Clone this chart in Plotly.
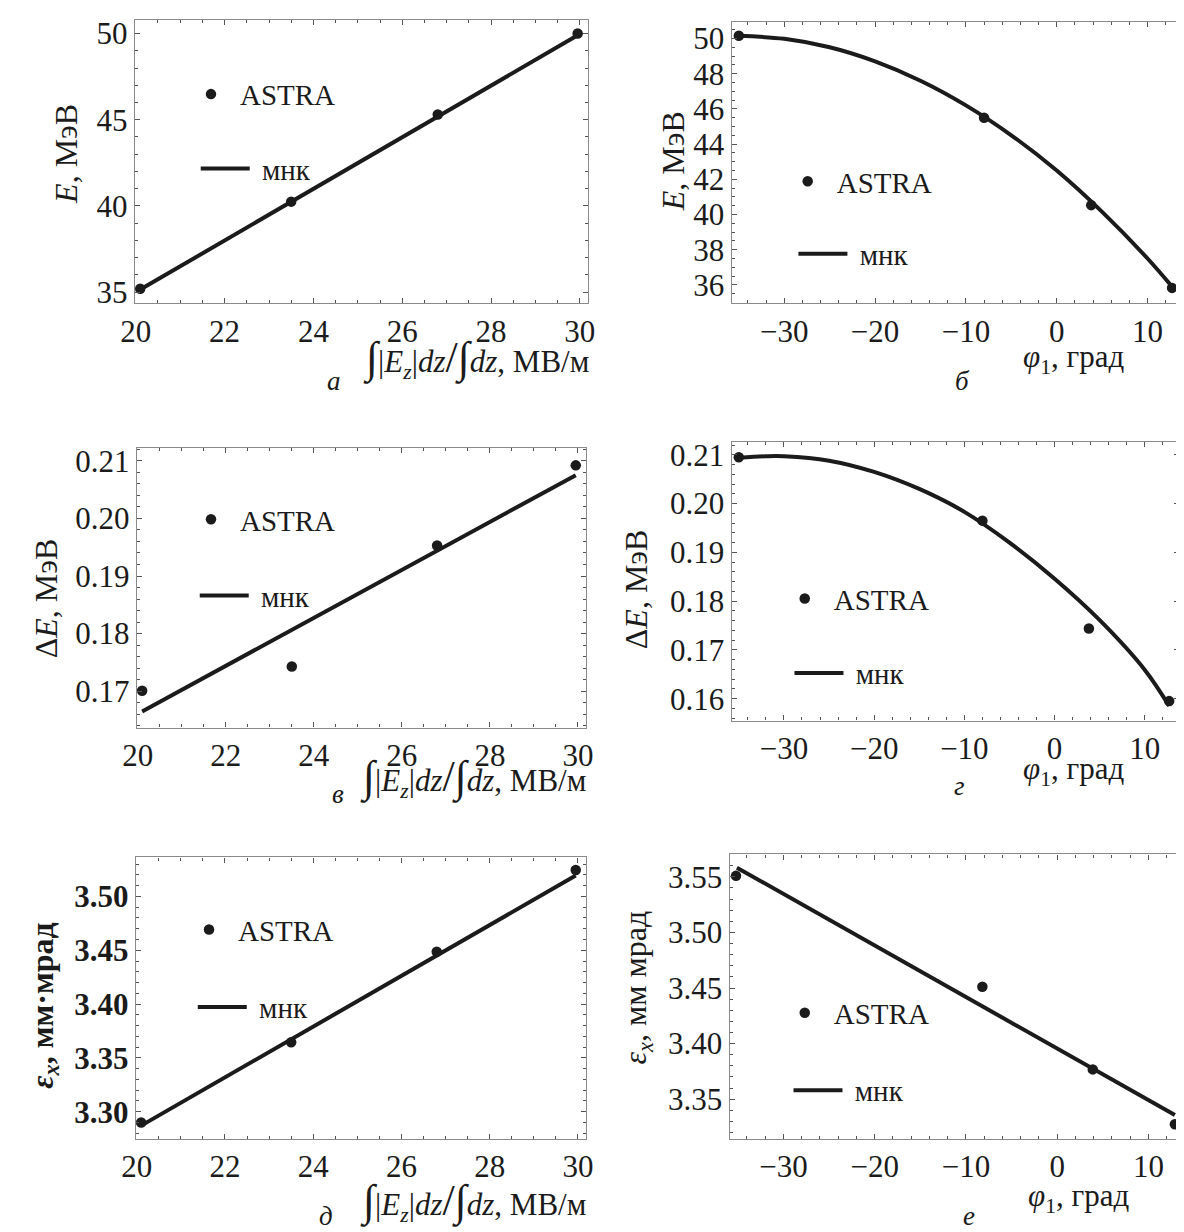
import plotly.graph_objects as go

W, H = 1184, 1232

# ---------------- data ----------------
# left column: x = ∫|Ez|dz/∫dz, MV/m
field_x = [20.1, 23.5, 26.8, 29.95]
fit_field_x = [20.1, 29.95]

# a) E, MeV vs field
E_field_pts = [35.2, 40.25, 45.3, 50.0]
E_field_fit = [35.15, 49.9]

# в) dE, MeV vs field
dE_field_pts = [0.1701, 0.1743, 0.1953, 0.2092]
dE_field_fit = [0.1665, 0.2075]

# д) emittance vs field
em_field_pts = [3.290, 3.3646, 3.4486, 3.5246]
em_field_fit = [3.2871, 3.5194]

# right column: x = phi1, deg
phi_x = [-35.0, -8.0, 3.8, 12.7]

# б) E vs phi
E_phi_pts = [50.15, 45.5, 40.53, 35.83]
phi_curve_x = [-35, -30, -25, -20, -15, -10, -5, 0, 5, 10, 12.7]
E_phi_fit = [50.15, 49.98, 49.5, 48.7, 47.6, 46.2, 44.5, 42.5, 40.15, 37.5, 35.9]

# г) dE vs phi
dE_phi_pts = [0.2095, 0.1965, 0.1744, 0.1595]
phi_curve_x2 = [-35, -32, -30, -25, -20, -15, -10, -5, 0, 5, 10, 12.7]
dE_phi_fit = [0.2094, 0.2097, 0.2097, 0.2088, 0.2065, 0.2030, 0.1983, 0.1920,
              0.1846, 0.1761, 0.1659, 0.1585]

# е) emittance vs phi
phi_x_e = [-35.2, -8.2, 3.9, 12.9]
em_phi_pts = [3.5509, 3.4512, 3.3768, 3.3274]
phi_fit_x_e = [-35.1, 12.9]
em_phi_fit = [3.5583, 3.3357]

# ---------------- styling ----------------
INK = "#1b1b1b"
SERIF = "Liberation Serif, Times New Roman, serif"
TICK_FS = 31
LEG_FS = 29
TITLE_FS = 32

fig = go.Figure()

panels = [
    dict(x=field_x, pts=E_field_pts, fx=fit_field_x, fy=E_field_fit,
         dx=(114, 576), dy=(8, 294), xr=(19.98, 30.19), yr=(34.35, 50.79),
         xd=2, xm=0.5, x0=20, yd=5, ym=1, y0=35, yf="d",
         dot=(191, 83), line=(181, 158)),
    dict(x=phi_x, pts=E_phi_pts, fx=phi_curve_x, fy=E_phi_fit,
         dx=(722, 1181), dy=(10, 294), xr=(-35.8, 13.8), yr=(34.95, 50.94),
         xd=10, xm=2, x0=0, yd=2, ym=0.5, y0=36, yf="d",
         dot=(799, 171), line=(790, 244)),
    dict(x=field_x, pts=dE_field_pts, fx=fit_field_x, fy=dE_field_fit,
         dx=(116, 574), dy=(440, 722), xr=(19.98, 30.19), yr=(0.1637, 0.2122),
         xd=2, xm=0.5, x0=20, yd=0.01, ym=0.002, y0=0.17, yf=".2f",
         dot=(191, 512), line=(180, 589)),
    dict(x=phi_x, pts=dE_phi_pts, fx=phi_curve_x2, fy=dE_phi_fit,
         dx=(722, 1178), dy=(434, 715), xr=(-35.8, 13.8), yr=(0.1555, 0.2126),
         xd=10, xm=2, x0=0, yd=0.01, ym=0.002, y0=0.16, yf=".2f",
         dot=(796, 592), line=(786, 667)),
    dict(x=field_x, pts=em_field_pts, fx=fit_field_x, fy=em_field_fit,
         dx=(115, 574), dy=(853, 1137), xr=(19.98, 30.19), yr=(3.2748, 3.5363),
         xd=2, xm=0.5, x0=20, yd=0.05, ym=0.01, y0=3.3, yf=".2f",
         dot=(189, 926), line=(178, 1004), bold=True),
    dict(x=phi_x_e, pts=em_phi_pts, fx=phi_fit_x_e, fy=em_phi_fit,
         dx=(720, 1183), dy=(850, 1137), xr=(-35.9, 13.9), yr=(3.3143, 3.5702),
         xd=10, xm=2, x0=0, yd=0.05, ym=0.01, y0=3.35, yf=".2f",
         dot=(796, 1010), line=(785, 1088)),
]

layout = dict(
    width=W, height=H,
    margin=dict(l=0, r=0, t=0, b=0),
    paper_bgcolor="white", plot_bgcolor="white",
    font=dict(family=SERIF, color=INK, size=TICK_FS),
    showlegend=True,
)

def legname(k):
    return "legend" if k == 1 else f"legend{k}"

for i, p in enumerate(panels):
    n = i + 1
    xa = "x" if n == 1 else f"x{n}"
    ya = "y" if n == 1 else f"y{n}"
    lg_pts = legname(2 * n - 1)
    lg_fit = legname(2 * n)
    smooth = len(p["fx"]) > 2
    fig.add_trace(go.Scatter(
        x=p["x"], y=p["pts"], mode="markers", name="ASTRA",
        marker=dict(size=10.5, color=INK),
        xaxis=xa, yaxis=ya, legend=lg_pts,
        cliponaxis=False,
    ))
    fig.add_trace(go.Scatter(
        x=p["fx"], y=p["fy"], mode="lines",
        name="&nbsp;мнк",
        line=dict(color=INK, width=4, shape="spline" if smooth else "linear",
                  smoothing=1.0),
        xaxis=xa, yaxis=ya, legend=lg_fit,
    ))
    common = dict(
        showline=True, linecolor="#8a8a8a", linewidth=1.3, mirror="allticks",
        ticks="inside", ticklen=5, tickwidth=1.2, tickcolor="#555555",
        showgrid=False, zeroline=False,
    )
    xdom = [p["dx"][0] / W, p["dx"][1] / W]
    ydom = [1 - p["dy"][1] / H, 1 - p["dy"][0] / H]
    layout["xaxis" if n == 1 else f"xaxis{n}"] = dict(
        common, domain=xdom, anchor=ya, range=list(p["xr"]),
        tick0=p["x0"], dtick=p["xd"],
        tickfont=dict(family=SERIF, size=TICK_FS, color=INK),
        minor=dict(dtick=p["xm"], ticks="inside", ticklen=3, tickcolor="#555555",
                   tickwidth=1, showgrid=False),
    )
    ytf = dict(family=SERIF, size=TICK_FS, color=INK)
    if p.get("bold"):
        ytf["weight"] = "bold"
    layout["yaxis" if n == 1 else f"yaxis{n}"] = dict(
        common, domain=ydom, anchor=xa, range=list(p["yr"]),
        tick0=p["y0"], dtick=p["yd"], tickformat=p["yf"], tickfont=ytf,
        minor=dict(dtick=p["ym"], ticks="inside", ticklen=3, tickcolor="#555555",
                   tickwidth=1, showgrid=False),
    )
    # ASTRA legend: itemwidth 48 -> marker centre at +29, text at +58
    dx_, dy_ = p["dot"]
    layout[lg_pts] = dict(
        x=(dx_ - 29) / W, y=1 - dy_ / H, xanchor="left", yanchor="middle",
        bgcolor="rgba(0,0,0,0)", borderwidth=0, itemwidth=48,
        font=dict(family=SERIF, size=LEG_FS, color=INK),
    )
    # fit legend: itemwidth 49 -> line from +5 to +54
    lx_, ly_ = p["line"]
    layout[lg_fit] = dict(
        x=(lx_ - 5) / W, y=1 - ly_ / H, xanchor="left", yanchor="middle",
        bgcolor="rgba(0,0,0,0)", borderwidth=0, itemwidth=49,
        font=dict(family=SERIF, size=29, color=INK),
    )

fig.update_layout(**layout)

# ---------------- axis titles & panel letters ----------------
field_title = ("<span style='font-size:44px'>∫</span>|<i>E</i><sub><i>z</i></sub>|<i>dz</i>"
               "<span style='font-size:44px'>/∫</span><i>dz</i>, МВ/м")
phi_title = "<i>φ</i><sub>1</sub>, град"

def ann(text, x, y, size=TITLE_FS, angle=0, xanchor="center", bold=False):
    fig.add_annotation(
        text=text, x=x / W, y=1 - y / H, xref="paper", yref="paper",
        showarrow=False, textangle=angle, xanchor=xanchor, yanchor="middle",
        font=dict(family=SERIF, size=size, color=INK,
                  weight="bold" if bold else "normal"),
    )

# x titles
ann(field_title, 579, 350, size=31, xanchor="right")
ann(phi_title, 1070, 350, size=31)
ann(field_title, 576, 772, size=31, xanchor="right")
ann(phi_title, 1070, 766, size=31)
ann(field_title, 576, 1200, size=31, xanchor="right")
ann(phi_title, 1075, 1197, size=31)

# y titles
ann("<i>E</i>, МэВ", 44, 143, angle=-90)
ann("<i>E</i>, МэВ", 662, 151, angle=-90)
ann("Δ<i>E</i>, МэВ", 23, 592, angle=-90)
ann("Δ<i>E</i>, МэВ", 624, 582, angle=-90)
ann("<i>ε<sub>x</sub></i>, мм·мрад", 21, 1003, angle=-90, bold=True)
ann("<i>ε</i><sub><i>x</i></sub>, мм мрад", 626, 984, angle=-90)

# panel letters
for letter, x, y in [("а", 317, 372), ("б", 957, 372), ("в", 321, 789),
                     ("г", 954, 781), ("д", 309, 1215), ("е", 964, 1215)]:
    ann(f"<i>{letter}</i>", x, y, size=27)

fig.write_html("out.html")
